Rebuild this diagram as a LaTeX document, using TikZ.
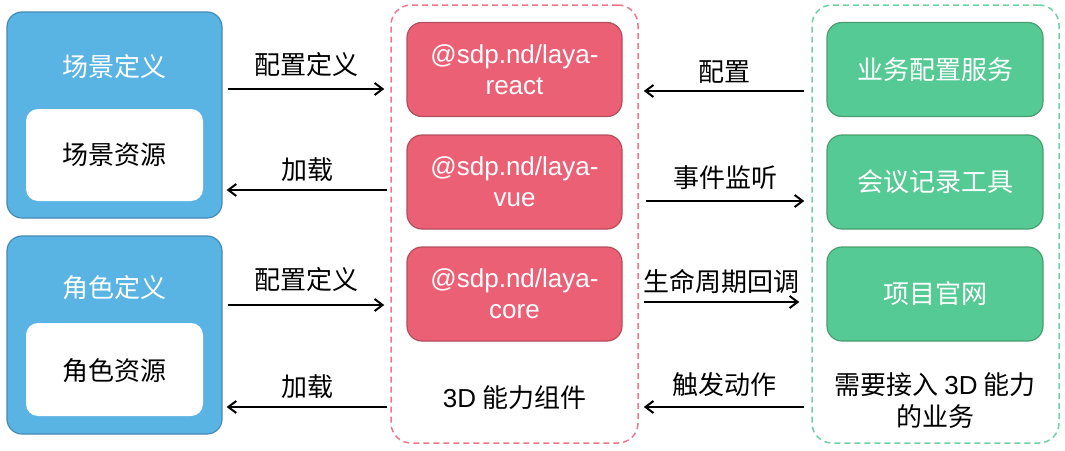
\documentclass[tikz,border=0pt]{standalone}
\usepackage{fontspec}
\newfontfamily\cjk{Noto Sans CJK SC}
\newfontfamily\lat{Liberation Sans}
\usetikzlibrary{arrows.meta,calc}
\definecolor{bluefill}{RGB}{90,180,227}
\definecolor{bluedraw}{RGB}{68,138,182}
\definecolor{redfill}{RGB}{236,96,117}
\definecolor{reddraw}{RGB}{178,78,94}
\definecolor{greenfill}{RGB}{86,202,149}
\definecolor{greendraw}{RGB}{72,158,112}
\definecolor{pinkdash}{RGB}{240,118,140}
\definecolor{greendash}{RGB}{110,210,165}
\tikzset{
  txt/.style={font=\cjk\fontsize{26}{32}\selectfont, inner sep=0pt, align=center},
  bluebox/.style={draw=bluedraw, fill=bluefill, line width=1.2pt, rounded corners=15pt, inner sep=0pt},
  whitebox/.style={fill=white, rounded corners=12pt, inner sep=0pt},
  redbox/.style={draw=reddraw, fill=redfill, line width=1.2pt, rounded corners=15pt, inner sep=0pt,
    minimum width=215pt, minimum height=94pt, text=white, align=center,
    font=\lat\fontsize{26}{31}\selectfont},
  greenbox/.style={draw=greendraw, fill=greenfill, line width=1.2pt, rounded corners=15pt, inner sep=0pt,
    minimum width=216pt, minimum height=94pt, text=white, align=center,
    font=\cjk\fontsize{26}{32}\selectfont},
  container/.style={dashed, dash pattern=on 6pt off 4pt, line width=1.5pt, rounded corners=20pt, inner sep=0pt},
  arr/.style={-{Straight Barb[length=8pt,width=12pt]}, line width=2pt, black},
}
\begin{document}
\begin{tikzpicture}[x=1pt,y=-1pt]
\useasboundingbox (0,0) rectangle (1065,450);
% left blue boxes
\node[bluebox, minimum width=215pt, minimum height=206pt] (blue1) at (114.5,115) {};
\node[whitebox, minimum width=177pt, minimum height=92pt] (w1) at (114.5,155) {};
\node[txt, text=white] (t1) at (114.5,67) {场景定义};
\node[txt] (r1) at (114.5,155) {场景资源};
\node[bluebox, minimum width=215pt, minimum height=198pt] (blue2) at (114.5,335) {};
\node[whitebox, minimum width=177pt, minimum height=93pt] (w2) at (114.5,369.5) {};
\node[txt, text=white] (t2) at (114.5,288) {角色定义};
\node[txt] (r2) at (114.5,371) {角色资源};
% middle container
\node[container, draw=pinkdash, minimum width=247pt, minimum height=438pt] (mid) at (514.5,224) {};
\node[redbox] (red1) at (514.5,69.5) {@sdp.nd/laya-\\react};
\node[redbox] (red2) at (514.5,182) {@sdp.nd/laya-\\vue};
\node[redbox] (red3) at (514.5,294) {@sdp.nd/laya-\\core};
\node[txt] (midlbl) at (514.5,398) {{\lat 3D} 能力组件};
% right container
\node[container, draw=greendash, minimum width=247pt, minimum height=438pt] (right) at (935.5,224) {};
\node[greenbox] (g1) at (935,69.5) {业务配置服务};
\node[greenbox] (g2) at (935,182) {会议记录工具};
\node[greenbox] (g3) at (935,294) {项目官网};
\node[txt] (rightlbl) at (935,401) {需要接入 {\lat 3D} 能力\\的业务};
% left arrows
\coordinate (y1) at (0,89);
\coordinate (y2) at (0,190);
\coordinate (y3) at (0,305);
\coordinate (y4) at (0,407);
\draw[arr] ([xshift=5pt]blue1.east |- y1) -- ([xshift=-6pt]mid.west |- y1);
\draw[arr] ([xshift=-3pt]mid.west |- y2) -- ([xshift=4pt]blue1.east |- y2);
\draw[arr] ([xshift=5pt]blue2.east |- y3) -- ([xshift=-6pt]mid.west |- y3);
\draw[arr] ([xshift=-3pt]mid.west |- y4) -- ([xshift=4pt]blue2.east |- y4);
\node[txt] (la1) at (306,65) {配置定义};
\node[txt] (la2) at (307,170) {加载};
\node[txt] (la3) at (306,280) {配置定义};
\node[txt] (la4) at (307,387) {加载};
% right arrows
\coordinate (z1) at (0,91);
\coordinate (z2) at (0,201);
\coordinate (z3) at (0,302);
\coordinate (z4) at (0,407);
\draw[arr] ([xshift=-7pt]right.west |- z1) -- ([xshift=5pt]mid.east |- z1);
\draw[arr] ([xshift=7pt]mid.east |- z2) -- ([xshift=-7pt]right.west |- z2);
\draw[arr] ([xshift=5pt]mid.east |- z3) -- ([xshift=-12pt]right.west |- z3);
\draw[arr] ([xshift=-7pt]right.west |- z4) -- ([xshift=5pt]mid.east |- z4);
\node[txt] (lb1) at (724,72) {配置};
\node[txt] (lb2) at (725,178) {事件监听};
\node[txt] (lb3) at (721.5,282) {生命周期回调};
\node[txt] (lb4) at (724,385) {触发动作};
\end{tikzpicture}
\end{document}
